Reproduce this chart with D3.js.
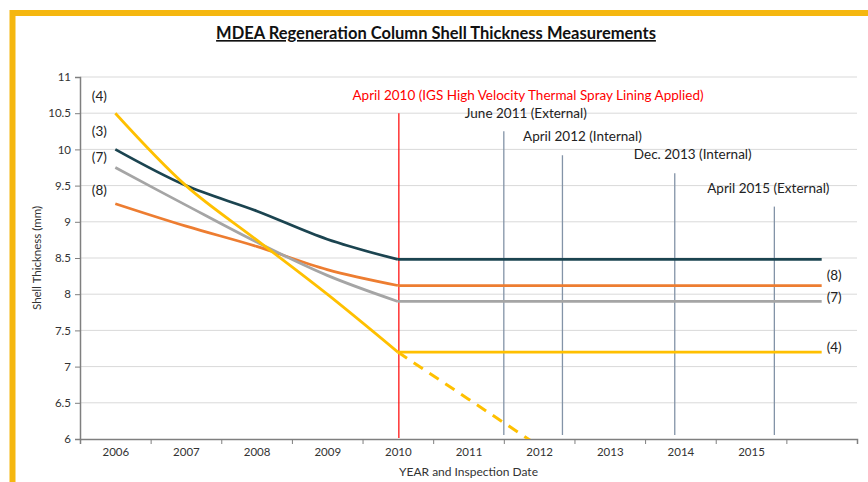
<!DOCTYPE html>
<html>
<head>
<meta charset="utf-8">
<script src="https://cdn.jsdelivr.net/npm/d3@7"></script>
<style>
  body { margin: 0; background: #fff; }
  svg { display: block; font-family: Lato, "Open Sans", sans-serif; }
</style>
</head>
<body>
<div class="root"></div>
<script>
// category years (the last one is an empty slot on the axis)
var years = [2006, 2007, 2008, 2009, 2010, 2011, 2012, 2013, 2014, 2015, 2016];
var yearLabels = ['2006', '2007', '2008', '2009', '2010', '2011', '2012', '2013', '2014', '2015', ''];

// shell thickness (mm) per location, 2006..2016
var loc3 = [10.0, 9.5, 9.15, 8.76, 8.48, 8.48, 8.48, 8.48, 8.48, 8.48, 8.48];
var loc8 = [9.25, 8.94, 8.66, 8.34, 8.12, 8.12, 8.12, 8.12, 8.12, 8.12, 8.12];
var loc7 = [9.75, 9.23, 8.72, 8.26, 7.9, 7.9, 7.9, 7.9, 7.9, 7.9, 7.9];
var loc4 = [10.5, 9.5, 8.75, 8.0, 7.2, 7.2, 7.2, 7.2, 7.2, 7.2, 7.2];

// projected loss at location 4 without the lining (2010..2012)
var projYears = [2010, 2011, 2012];
var loc4Projected = [7.2, 6.55, 5.9];

var yTicks = [6, 6.5, 7, 7.5, 8, 8.5, 9, 9.5, 10, 10.5, 11];

// lining date and inspections (decimal year, top of marker in mm)
var liningLabel = 'April 2010 (IGS High Velocity Thermal Spray Lining Applied)';
var liningDate = 2010;
var liningTop = 10.5;

var inspLabels = ['June 2011 (External)', 'April 2012 (Internal)', 'Dec. 2013 (Internal)', 'April 2015 (External)'];
var inspDates = [2011.5, 2012.33, 2013.92, 2015.33];
var inspTops = [10.25, 9.92, 9.67, 9.21];

function drawChart() {
  var w = 868, h = 482;
  var left = 80, right = 857, top = 77, bottom = 439;

  var svg = d3.select('.root').append('svg')
    .attr('width', w)
    .attr('height', h);

  // yellow frame
  svg.append('path')
    .attr('d', 'M12.5,' + (h + 5) + 'V13H' + (w + 5))
    .attr('fill', 'none')
    .attr('stroke', '#F5B70F')
    .attr('stroke-width', 6);

  svg.append('text')
    .attr('x', 436)
    .attr('y', 39)
    .attr('text-anchor', 'middle')
    .attr('font-size', 16.5)
    .attr('font-weight', 'bold')
    .attr('text-decoration', 'underline')
    .attr('fill', '#111')
    .text('MDEA Regeneration Column Shell Thickness Measurements');

  var x = d3.scaleLinear().domain([2005.5, 2016.5]).range([left, right]);
  var y = d3.scaleLinear().domain([6, 11]).range([bottom, top]);

  // gridlines
  svg.append('g')
    .selectAll('line')
    .data(yTicks.slice(1))
    .enter().append('line')
      .attr('x1', left)
      .attr('x2', right)
      .attr('y1', function(d) { return y(d); })
      .attr('y2', function(d) { return y(d); })
      .attr('stroke', '#D9D9D9')
      .attr('stroke-width', 1);

  // y axis
  var yAxis = svg.append('g')
    .attr('transform', 'translate(' + left + ',0)')
    .call(d3.axisLeft(y).tickValues(yTicks).tickSize(5).tickPadding(4)
      .tickFormat(function(d) { return String(d); }));
  yAxis.select('.domain').attr('stroke', '#7F7F7F').attr('stroke-width', 1.5);
  yAxis.selectAll('.tick line').attr('stroke', '#7F7F7F');
  yAxis.selectAll('text').attr('font-size', 11.5).attr('fill', '#333').attr('font-family', 'Lato, sans-serif');

  svg.append('text')
    .attr('transform', 'translate(41,' + ((top + bottom) / 2) + ') rotate(-90)')
    .attr('text-anchor', 'middle')
    .attr('font-size', 11.5)
    .attr('fill', '#333')
    .text('Shell Thickness (mm)');

  // x axis: tick marks between categories, labels in the middle
  var edges = years.map(function(d) { return d - 0.5; }).concat([2016.5]);
  var xTicks = svg.append('g')
    .attr('transform', 'translate(0,' + bottom + ')')
    .call(d3.axisBottom(x).tickValues(edges).tickSize(5).tickFormat(''));
  xTicks.select('.domain').attr('stroke', '#7F7F7F').attr('stroke-width', 1.5);
  xTicks.selectAll('.tick line').attr('stroke', '#7F7F7F');

  var xLabels = svg.append('g')
    .attr('transform', 'translate(0,' + bottom + ')')
    .call(d3.axisBottom(x).tickValues(years).tickSize(0).tickPadding(9)
      .tickFormat(function(d, i) { return yearLabels[i]; }));
  xLabels.select('.domain').remove();
  xLabels.selectAll('text').attr('font-size', 11.5).attr('fill', '#333').attr('font-family', 'Lato, sans-serif');

  svg.append('text')
    .attr('x', (left + right) / 2)
    .attr('y', 476)
    .attr('text-anchor', 'middle')
    .attr('font-size', 12)
    .attr('fill', '#333')
    .text('YEAR and Inspection Date');

  // inspection markers
  var labelDx = [22, 20, 18, -6];
  var labelDy = [-13, -14, -14, -14];
  var insp = svg.append('g');
  inspDates.forEach(function(d, i) {
    insp.append('line')
      .attr('x1', x(d)).attr('x2', x(d))
      .attr('y1', y(inspTops[i])).attr('y2', bottom - 4)
      .attr('stroke', '#8393A7')
      .attr('stroke-width', 1.3);
    insp.append('text')
      .attr('x', x(d) + labelDx[i])
      .attr('y', y(inspTops[i]) + labelDy[i])
      .attr('text-anchor', 'middle')
      .attr('font-size', 13.5)
      .attr('fill', '#222')
      .text(inspLabels[i]);
  });

  // lining applied marker
  svg.append('line')
    .attr('x1', x(liningDate) + 1).attr('x2', x(liningDate) + 1)
    .attr('y1', y(liningTop)).attr('y2', bottom - 1)
    .attr('stroke', '#FF0000')
    .attr('stroke-width', 1.2);
  svg.append('text')
    .attr('x', 528)
    .attr('y', y(liningTop) - 13)
    .attr('text-anchor', 'middle')
    .attr('font-size', 13.5)
    .attr('fill', '#FF0000')
    .text(liningLabel);

  // series
  var series = [
    {name: '(8)', values: loc8, color: '#ED7D31'},
    {name: '(7)', values: loc7, color: '#A5A5A5'},
    {name: '(3)', values: loc3, color: '#1B4450'},
    {name: '(4)', values: loc4, color: '#FFC000'}
  ];

  var curved = d3.line()
    .x(function(d) { return x(d.year); })
    .y(function(d) { return y(d.value); })
    .curve(d3.curveCatmullRom.alpha(0.5));
  var straight = d3.line()
    .x(function(d) { return x(d.year); })
    .y(function(d) { return y(d.value); });

  svg.append('clipPath').attr('id', 'plot')
    .append('rect').attr('x', left).attr('y', top).attr('width', right - left).attr('height', bottom - top);

  // projected line (dashed)
  var proj = projYears.map(function(d, i) { return {year: d, value: loc4Projected[i]}; });
  svg.append('path')
    .attr('clip-path', 'url(#plot)')
    .attr('d', straight(proj))
    .attr('fill', 'none')
    .attr('stroke', '#FFC000')
    .attr('stroke-width', 3)
    .attr('stroke-dasharray', '11,8');

  var lines = svg.append('g').attr('class', 'series');
  series.forEach(function(s) {
    var pts = years.map(function(d, i) { return {year: d, value: s.values[i]}; });
    lines.append('path')
      .attr('d', curved(pts.slice(0, 5)))
      .attr('fill', 'none')
      .attr('stroke', s.color)
      .attr('stroke-width', 2.75)
      .attr('stroke-linejoin', 'round');
    lines.append('path')
      .attr('d', straight(pts.slice(4)))
      .attr('fill', 'none')
      .attr('stroke', s.color)
      .attr('stroke-width', 2.75);
  });

  // series labels at the left (start) and right (end)
  var startLabels = [
    {name: '(4)', value: loc4[0], dy: -12},
    {name: '(3)', value: loc3[0], dy: -13},
    {name: '(7)', value: loc7[0], dy: -6},
    {name: '(8)', value: loc8[0], dy: -9}
  ];
  svg.append('g').selectAll('text')
    .data(startLabels)
    .enter().append('text')
      .attr('x', x(2006) - 16)
      .attr('y', function(d) { return y(d.value) + d.dy; })
      .attr('text-anchor', 'middle')
      .attr('font-size', 13.5)
      .attr('fill', '#222')
      .text(function(d) { return d.name; });

  var endLabels = [
    {name: '(8)', value: loc8[10], dy: -6},
    {name: '(7)', value: loc7[10], dy: 1},
    {name: '(4)', value: loc4[10], dy: 0}
  ];
  svg.append('g').selectAll('text')
    .data(endLabels)
    .enter().append('text')
      .attr('x', x(2016) + 5)
      .attr('y', function(d) { return y(d.value) + d.dy; })
      .attr('font-size', 13.5)
      .attr('fill', '#222')
      .text(function(d) { return d.name; });
}

window.onload = function() {
  drawChart();
};
</script>
</body>
</html>
